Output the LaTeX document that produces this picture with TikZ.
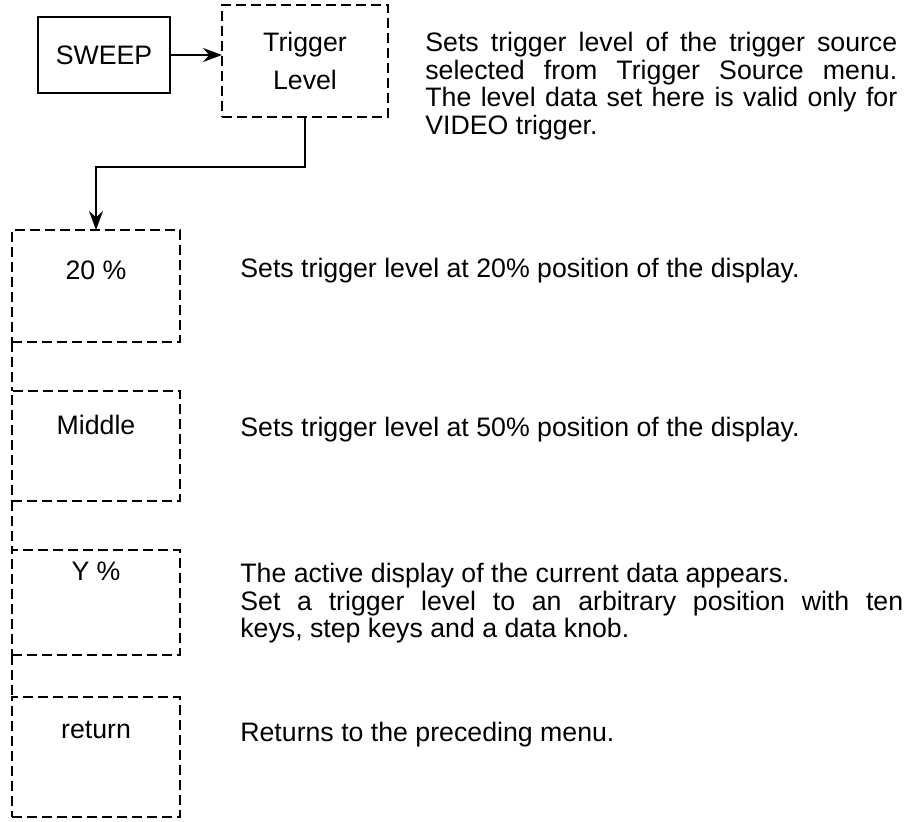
\documentclass[tikz,border=0pt]{standalone}
\usepackage{fontspec}
\setmainfont{Liberation Sans}
\usetikzlibrary{arrows.meta,positioning}
\newcommand{\menuFont}{\fontsize{15.2}{15.7}\selectfont}
\tikzset{
  keyBox/.style={
    rectangle, draw=black, line width=1.1pt, inner sep=0pt,
    minimum width=2.64cm, minimum height=1.52cm, font=\menuFont
  },
  softKey/.style={
    rectangle, draw=black, line width=0.9pt, dash pattern=on 0.2cm off 0.1cm,
    inner sep=0pt, outer sep=0pt, font=\menuFont
  },
  menuBox/.style={
    softKey, minimum width=3.36cm, text height=0.9cm, text depth=1.34cm
  },
  noteText/.style={
    anchor=north west, inner sep=0pt, align=justify, font=\menuFont
  },
  keyArrow/.style={-{Stealth[length=3.8mm,width=2.8mm]}, line width=0.8pt},
  keyEdge/.style={draw=black, line width=0.9pt, dash pattern=on 0.2cm off 0.1cm}
}
\begin{document}
\begin{tikzpicture}[x=0.02cm, y=-0.02cm]
  \useasboundingbox (0,0) rectangle (915,821);

  % top row: key and soft key
  \node[keyBox] (sweep) at (104,55) {SWEEP};
  \node[softKey, align=center, minimum width=3.32cm, minimum height=2.24cm,
        font=\fontsize{15.2}{21.6}\selectfont] (trig) at (305,61) {Trigger\\Level};
  \node[noteText, text width=9.44cm] (ntrig) at (425,32)
    {Sets trigger level of the trigger source\linebreak selected from Trigger Source menu.\linebreak The level data set here is valid only for\linebreak VIDEO trigger.};

  % menu column
  \node[menuBox, anchor=north, text height=0.99cm, text depth=1.25cm] (m20) at (96,230) {20 \%};
  \node[menuBox, below=0.98cm of m20, text height=0.88cm, text depth=1.32cm] (mmid) {Middle};
  \node[menuBox, below=0.98cm of mmid, text height=0.62cm, text depth=1.48cm] (my) {Y \%};
  \node[menuBox, below=0.84cm of my, text height=0.84cm, text depth=1.56cm] (mret) {return};

  % notes for the menu entries
  \node[noteText, text width=13.26cm] (n20) at (240,258) {Sets trigger level at 20\% position of the display.};
  \node[noteText, text width=13.26cm] (nmid) at (240,417) {Sets trigger level at 50\% position of the display.};
  \node[noteText, text width=13.26cm] (ny) at (240,563)
    {The active display of the current data appears.\\ Set a trigger level to an arbitrary position with ten\linebreak keys, step keys and a data knob.};
  \node[noteText, text width=13.26cm] (nret) at (240,722) {Returns to the preceding menu.};

  \draw[keyArrow] (sweep.east) -- (sweep.east -| trig.west);
  \draw[keyArrow] (trig.south) -- ++(0,50) -| (m20.north);
  \foreach \a/\b in {m20/mmid, mmid/my, my/mret}
    \draw[keyEdge] (\a.south west) -- (\b.north west);
\end{tikzpicture}
\end{document}
